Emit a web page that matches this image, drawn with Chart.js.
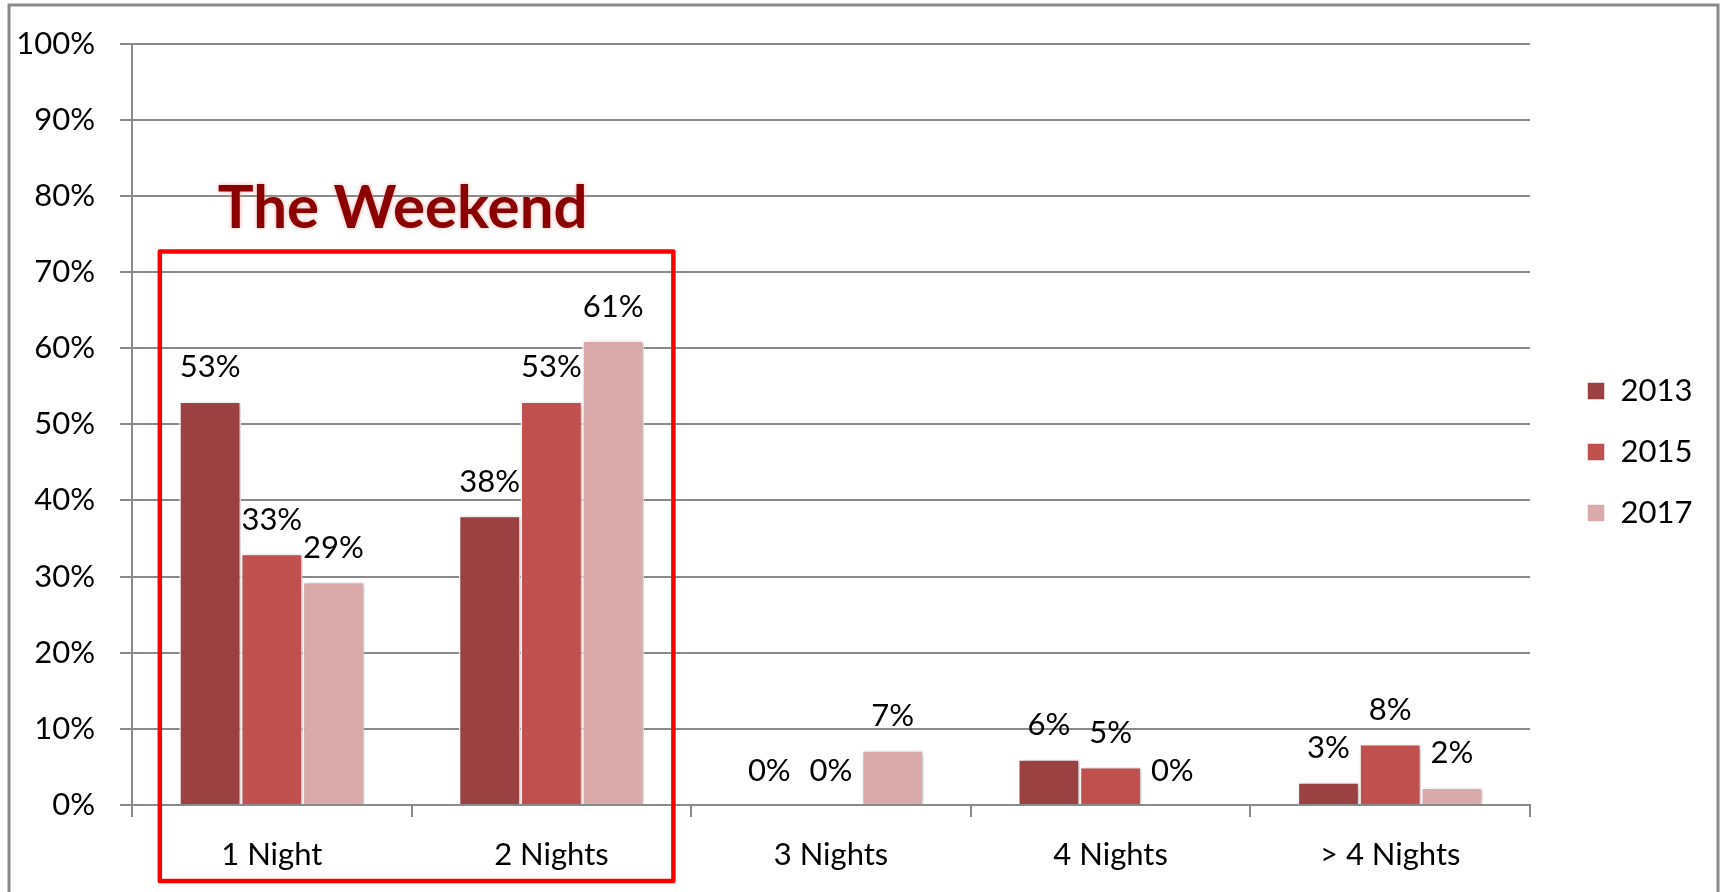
<!DOCTYPE html>
<html>
<head>
<meta charset="utf-8">
<script src="https://cdn.jsdelivr.net/npm/chart.js@4"></script>
<style>
  html, body { margin: 0; padding: 0; background: #fff; }
  #wrap { width: 1723px; height: 892px; }
</style>
</head>
<body>
<div id="wrap"><canvas id="nightsChart" width="1723" height="892"></canvas></div>
<script>
// chart data
const categories = ["1 Night", "2 Nights", "3 Nights", "4 Nights", "> 4 Nights"];
const years = ["2013", "2015", "2017"];
const values2013 = [53, 38, 0, 6, 3];
const values2015 = [33, 53, 0, 5, 8];
const values2017 = [29.3, 61, 7.2, 0, 2.3];
const yearColors = ["#9c4141", "#c0504e", "#daa9a9"];
const calloutText = "The Weekend";

const axisGray = "#8a8a8a";
const baseFont = "Lato, 'Open Sans', sans-serif";
const textSize = 31;

// frame, weekend box, title and value labels
const decorations = {
    id: "decorations",
    afterLayout(chart) {
        // move the legend block where Excel put it
        const lg = chart.legend;
        lg.left = 1557; lg.right = 1717; lg.width = 160;
        lg.top = 12; lg.bottom = 892; lg.height = 880;
    },
    beforeDatasetsDraw(chart) {
        const ctx = chart.ctx;
        ctx.save();
        ctx.shadowColor = "rgba(0,0,0,0.28)";
        ctx.shadowBlur = 5;
        ctx.shadowOffsetX = 2;
        ctx.shadowOffsetY = 1;
    },
    afterDatasetsDraw(chart) {
        const ctx = chart.ctx;
        ctx.restore();
        ctx.save();
        ctx.font = textSize + "px " + baseFont;
        ctx.fillStyle = "#000";
        ctx.textAlign = "center";
        ctx.textBaseline = "middle";
        chart.data.datasets.forEach((ds, i) => {
            chart.getDatasetMeta(i).data.forEach((bar, j) => {
                ctx.fillText(Math.round(ds.data[j]) + "%", bar.x, bar.y - 34);
            });
        });
        ctx.restore();
    },
    afterDraw(chart) {
        const ctx = chart.ctx;
        const x = chart.scales.x, y = chart.scales.y;
        ctx.save();
        // outer frame
        ctx.strokeStyle = axisGray;
        ctx.lineWidth = 3;
        ctx.strokeRect(9, 5, 1709, 900);
        // red weekend box
        const left = x.getPixelForValue(0) - 112;
        const right = x.getPixelForValue(1) + 122;
        const top = y.getPixelForValue(72.7);
        ctx.strokeStyle = "#ff0000";
        ctx.lineWidth = 4.5;
        ctx.lineJoin = "round";
        ctx.strokeRect(left, top, right - left, 881 - top);
        // callout title
        ctx.font = "bold 60px " + baseFont;
        ctx.fillStyle = "#8b0000";
        ctx.textAlign = "center";
        ctx.textBaseline = "alphabetic";
        ctx.shadowColor = "rgba(230,150,150,0.8)";
        ctx.shadowBlur = 4;
        ctx.fillText(calloutText, (left + right) / 2 - 14, y.getPixelForValue(75.8));
        ctx.restore();
    }
};

const ctx = document.getElementById("nightsChart").getContext("2d");
new Chart(ctx, {
    type: "bar",
    data: {
        labels: categories,
        datasets: [values2013, values2015, values2017].map((vals, i) => ({
            label: years[i],
            data: vals,
            backgroundColor: yearColors[i],
            borderColor: "#ffffff",
            borderWidth: 1.5,
            categoryPercentage: 0.662,
            barPercentage: 1.0
        }))
    },
    options: {
        responsive: false,
        animation: false,
        layout: { padding: { top: 36, left: 8, right: 93, bottom: 0 } },
        plugins: {
            legend: {
                position: "right",
                maxWidth: 100,
                labels: {
                    boxWidth: 18,
                    boxHeight: 18,
                    padding: 30,
                    color: "#000",
                    font: { size: textSize, family: baseFont }
                }
            },
            tooltip: { enabled: false }
        },
        scales: {
            x: {
                grid: { drawOnChartArea: false, color: axisGray, lineWidth: 2, tickLength: 12 },
                border: { color: axisGray, width: 2 },
                ticks: { color: "#000", padding: 19, font: { size: textSize, family: baseFont } },
                afterFit(scale) { scale.height = 87; }
            },
            y: {
                min: 0,
                max: 100,
                grid: { color: axisGray, lineWidth: 2, tickLength: 12 },
                border: { color: axisGray, width: 2 },
                ticks: {
                    stepSize: 10,
                    color: "#000",
                    padding: 25,
                    font: { size: textSize, family: baseFont },
                    callback: v => v + "%"
                },
                afterFit(scale) { scale.width = 124; }
            }
        }
    },
    plugins: [decorations]
});
</script>
</body>
</html>
